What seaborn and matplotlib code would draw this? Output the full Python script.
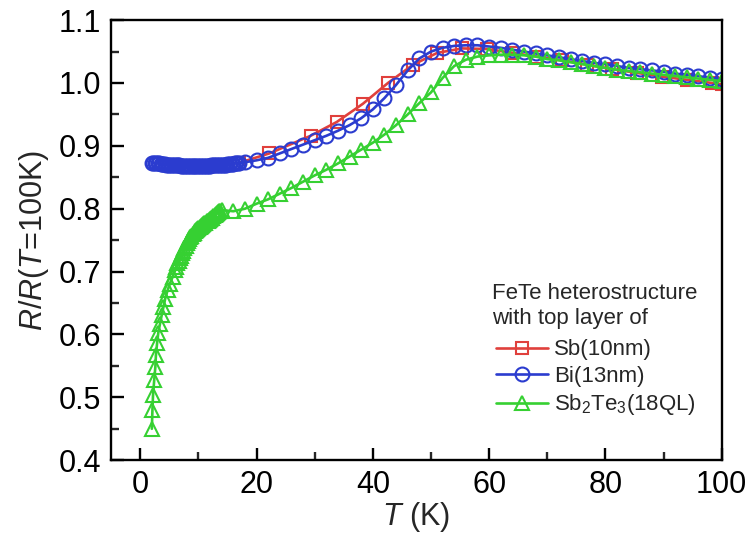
import matplotlib
matplotlib.use("Agg")
import matplotlib.pyplot as plt
import seaborn as sns
import pandas as pd

# Normalised resistance R/R(T=100K) versus temperature for three FeTe heterostructures

# Sb(10nm) top layer
sb_T = [17.0, 22.2, 29.3, 33.8, 38.3, 42.6, 46.9, 51.1, 55.4, 59.7, 64.0,
        68.3, 72.6, 76.9, 81.2, 85.5, 89.8, 94.1, 98.4, 100.0]
sb_R = [0.873, 0.888, 0.916, 0.938, 0.967, 1.000, 1.029, 1.048, 1.055, 1.054,
        1.048, 1.042, 1.036, 1.029, 1.022, 1.016, 1.010, 1.005, 1.000, 0.998]

# Bi(13nm) top layer
bi_T = [2.00, 2.25, 2.50, 2.75, 3.00, 3.25, 3.50, 3.75, 4.00, 4.25, 4.50,
        4.75, 5.00, 5.25, 5.50, 5.75, 6.00, 6.25, 6.50, 6.75, 7.00, 7.25,
        7.50, 7.75, 8.00, 8.25, 8.50, 8.75, 9.00, 9.25, 9.50, 9.75, 10.00,
        10.25, 10.50, 10.75, 11.00, 11.25, 11.50, 11.75, 12.00, 12.25, 12.50,
        12.75, 13.00, 13.25, 13.50, 13.75, 14.00, 14.25, 14.50, 14.75, 15.00,
        15.25, 15.50, 15.75, 16.00, 16.25, 16.50, 16.75, 17.00,
        18, 20, 22, 24, 26, 28, 30, 32, 34, 36, 38, 40, 42, 44, 46, 48, 50,
        52, 54, 56, 58, 60, 62, 64, 66, 68, 70, 72, 74, 76, 78, 80, 82, 84,
        86, 88, 90, 92, 94, 96, 98, 100]
bi_R = [0.873, 0.873, 0.872, 0.872, 0.872, 0.872, 0.871, 0.871, 0.871, 0.871,
        0.870, 0.870, 0.870, 0.870, 0.869, 0.869, 0.869, 0.869, 0.869, 0.869,
        0.868, 0.868, 0.868, 0.868, 0.868, 0.868, 0.868, 0.868, 0.868, 0.868,
        0.868, 0.868, 0.868, 0.868, 0.868, 0.868, 0.868, 0.868, 0.868, 0.868,
        0.868, 0.869, 0.869, 0.869, 0.869, 0.869, 0.869, 0.870, 0.870, 0.870,
        0.870, 0.870, 0.871, 0.871, 0.871, 0.871, 0.871, 0.872, 0.872, 0.872,
        0.872,
        0.874, 0.877, 0.881, 0.888, 0.895, 0.902, 0.909, 0.916, 0.924, 0.933,
        0.944, 0.958, 0.976, 0.997, 1.020, 1.039, 1.050, 1.056, 1.059, 1.060,
        1.060, 1.058, 1.056, 1.053, 1.050, 1.047, 1.044, 1.041, 1.038, 1.035,
        1.032, 1.030, 1.027, 1.024, 1.022, 1.020, 1.018, 1.015, 1.013, 1.011,
        1.008, 1.006]

# Sb2Te3(18QL) top layer
st_T = [2.0, 2.1, 2.2, 2.4, 2.6, 2.7, 2.9, 3.1, 3.4, 3.7, 4.0, 4.3, 4.7, 5.1,
        5.6, 6.0, 6.2, 6.4, 6.6, 6.8, 7.0, 7.2, 7.4, 7.6, 7.8, 8.0, 8.2, 8.4,
        8.6, 8.8, 9.0, 9.2, 9.4, 9.6, 9.8, 10.0, 10.2, 10.4, 10.6, 10.8, 11.0,
        11.2, 11.4, 11.6, 11.8, 12.0, 12.2, 12.4, 12.6, 12.8, 13.0, 13.2, 13.4,
        13.6, 13.8, 14.0,
        16, 18, 20, 22, 24, 26, 28, 30, 32, 34, 36, 38, 40, 42, 44, 46, 48,
        50, 52, 54, 56, 58, 60, 62, 64, 66, 68, 70, 72, 74, 76, 78, 80, 82,
        84, 86, 88, 90, 92, 94, 96, 98, 100]
st_R = [0.450, 0.480, 0.503, 0.527, 0.548, 0.567, 0.586, 0.602, 0.617, 0.631,
        0.644, 0.657, 0.670, 0.681, 0.692, 0.702, 0.708, 0.713, 0.717, 0.721,
        0.725, 0.729, 0.733, 0.737, 0.741, 0.745, 0.749, 0.752, 0.755, 0.757,
        0.760, 0.762, 0.764, 0.766, 0.768, 0.770, 0.771, 0.773, 0.774, 0.775,
        0.777, 0.778, 0.780, 0.781, 0.782, 0.784, 0.785, 0.786, 0.788, 0.790,
        0.791, 0.793, 0.795, 0.796, 0.797, 0.798,
        0.796, 0.800, 0.808, 0.815, 0.824, 0.833, 0.843, 0.853, 0.862, 0.872,
        0.883, 0.894, 0.905, 0.918, 0.933, 0.950, 0.968, 0.985, 1.008, 1.027,
        1.037, 1.042, 1.044, 1.045, 1.045, 1.044, 1.042, 1.038, 1.036, 1.033,
        1.030, 1.027, 1.024, 1.021, 1.019, 1.017, 1.015, 1.013, 1.011, 1.009,
        1.007, 1.005, 1.003]

x_ticks = [0, 20, 40, 60, 80, 100]
y_ticks = [0.4, 0.5, 0.6, 0.7, 0.8, 0.9, 1.0, 1.1]

series = [
    ("Sb(10nm)", sb_T, sb_R, "#E0403C", "s", 9.0),
    ("Bi(13nm)", bi_T, bi_R, "#2B3CCF", "o", 10.0),
    ("Sb$_2$Te$_3$(18QL)", st_T, st_R, "#36D032", "^", 10.5),
]

sns.set_style("ticks")
plt.rcParams["font.family"] = ["Liberation Sans", "DejaVu Sans"]
plt.rcParams["mathtext.fontset"] = "custom"
plt.rcParams["mathtext.rm"] = "Liberation Sans"
plt.rcParams["mathtext.it"] = "Liberation Sans:italic"
plt.rcParams["mathtext.bf"] = "Liberation Sans:bold"

fig = plt.figure(figsize=(7.51, 5.44), dpi=100)
ax = fig.add_axes([0.148, 0.154, 0.813, 0.809])

for label, T, R, color, mk, ms in series:
    df = pd.DataFrame({"T": T, "R": R})
    sns.lineplot(data=df, x="T", y="R", ax=ax, color=color, linewidth=1.9,
                 marker=mk, markersize=ms, markerfacecolor="none",
                 markeredgecolor=color, markeredgewidth=1.5,
                 sort=False, estimator=None, label=label)

ax.set_xlim(-5, 100)
ax.set_ylim(0.4, 1.1)
ax.set_xticks(x_ticks)
ax.set_xticklabels([str(v) for v in x_ticks])
ax.set_yticks(y_ticks)
ax.set_yticklabels([f"{v:.1f}" for v in y_ticks])
ax.set_xticks([10, 30, 50, 70, 90], minor=True)
ax.set_yticks([0.45, 0.55, 0.65, 0.75, 0.85, 0.95, 1.05], minor=True)

for side in ["left", "right", "top", "bottom"]:
    ax.spines[side].set_visible(True)
    ax.spines[side].set_linewidth(1.7)
    ax.spines[side].set_color("black")

ax.tick_params(axis="both", which="major", direction="in", length=9,
               width=1.7, labelsize=22, pad=7, colors="black",
               top=False, right=False)
ax.tick_params(axis="both", which="minor", direction="in", length=5.5,
               width=1.7, top=False, right=False)

ax.set_xlabel(r"$\mathit{T}$ (K)", fontsize=22, labelpad=0)
ax.set_ylabel(r"$\mathit{R}$/$\mathit{R}$($\mathit{T}$=100K)", fontsize=22,
              labelpad=6)

# Legend heading and entries
ax.text(0.6236, 0.402, "FeTe heterostructure\nwith top layer of",
        transform=ax.transAxes, ha="left", va="top", fontsize=16,
        linespacing=1.2)
leg = ax.legend(loc="center left", bbox_to_anchor=(0.631, 0.186),
                frameon=False, fontsize=16,
                handlelength=2.3, handletextpad=0.3, labelspacing=0.25,
                borderpad=0, borderaxespad=0)

fig.savefig("out.png", dpi=100, facecolor="white")
